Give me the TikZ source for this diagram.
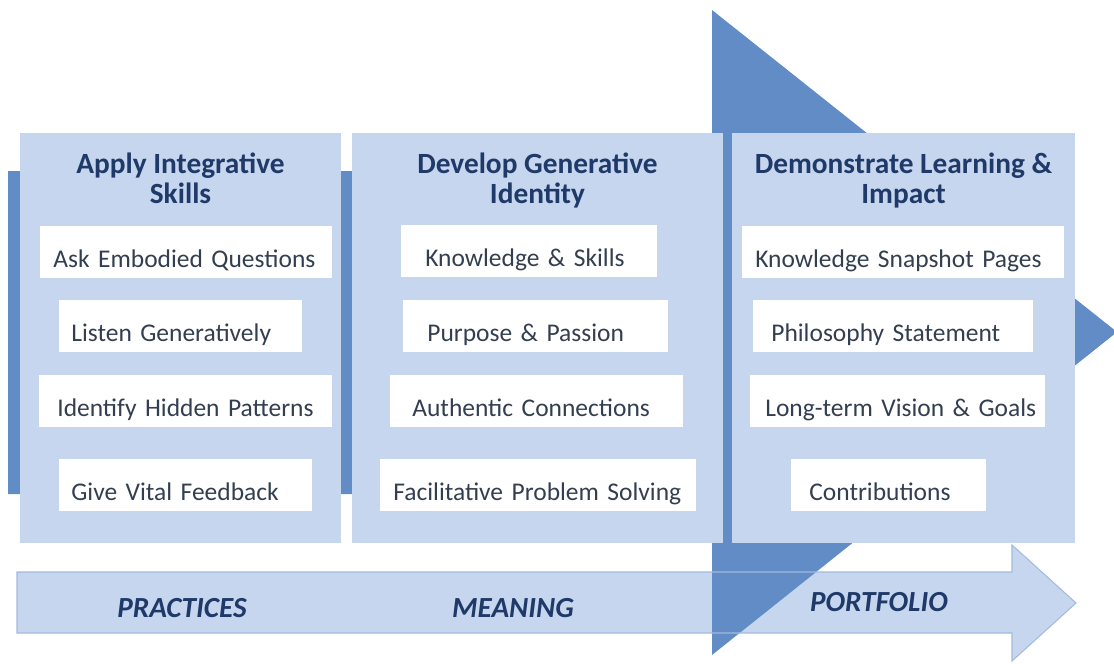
\documentclass[tikz,border=0pt]{standalone}
\usepackage{fontspec}
\setmainfont{Carlito}
\definecolor{arrowblue}{HTML}{628CC6}
\definecolor{panelblue}{HTML}{C6D6EE}
\definecolor{rimblue}{HTML}{A3BADD}
\definecolor{titlenavy}{HTML}{1F3A68}
\definecolor{itemgrey}{HTML}{333F50}

\begin{document}
\begin{tikzpicture}[x=0.02cm, y=-0.02cm]
\tikzset{panneau/.style={fill=panelblue, inner sep=0pt, minimum height=8.2cm},
  titre/.style={anchor=north, align=center, inner sep=0pt, text=titlenavy,
    font=\fontsize{16.7}{17}\selectfont\bfseries},
  casette/.style={fill=white, anchor=west, align=left, inner ysep=0pt,
    minimum height=1.04cm, text height=17.5pt, text depth=0pt, text=itemgrey,
    font=\fontsize{14.5}{16}\selectfont},
  etape/.style={anchor=base, inner sep=0pt, text=titlenavy,
    font=\fontsize{16.6}{17}\selectfont\bfseries\itshape}}
\useasboundingbox (0,0) rectangle (1114,663);
\fill[panelblue] (17,572) -- (1012,572) -- (1012,545) -- (1076,603) -- (1012,661) -- (1012,633) -- (17,633) -- cycle;
\fill[arrowblue] (8,171) -- (712,171) -- (712,10) -- (1117,332) -- (712,655) -- (712,494) -- (8,494) -- cycle;
\draw[rimblue, line width=0.6pt] (17,572) -- (1012,572) -- (1012,545) -- (1076,603) -- (1012,661) -- (1012,633) -- (17,633) -- cycle;
\node[panneau, minimum width=6.42cm] (P1) at (180.5,338) {};
\node[panneau, minimum width=7.42cm] (P2) at (537.5,338) {};
\node[panneau, minimum width=6.86cm] (P3) at (903.5,338) {};
\node[titre] (T1) at (180.5,153) {Apply Integrative\\Skills};
\node[titre] (T2) at (537.5,153) {Develop Generative\\Identity};
\node[titre] (T3) at (903.5,153) {Demonstrate Learning \&\\Impact};
\node[casette, inner xsep=0.26cm, text width=5.32cm] (B11) at (40,252) {\mbox{Ask Embodied Questions}};
\node[casette, inner xsep=0.24cm, text width=4.38cm] (B12) at (59,326) {\mbox{Listen Generatively}};
\node[casette, inner xsep=0.36cm, text width=5.14cm] (B13) at (39,401) {\mbox{Identify Hidden Patterns}};
\node[casette, inner xsep=0.24cm, text width=4.58cm] (B14) at (59,485) {\mbox{Give Vital Feedback}};
\node[casette, inner xsep=0.48cm, text width=4.16cm] (B21) at (401,251) {\mbox{Knowledge \& Skills}};
\node[casette, inner xsep=0.48cm, text width=4.34cm] (B22) at (403,326) {\mbox{Purpose \& Passion}};
\node[casette, inner xsep=0.44cm, text width=4.98cm] (B23) at (390,401) {\mbox{Authentic Connections}};
\node[casette, inner xsep=0.26cm, text width=5.80cm] (B24) at (380,485) {\mbox{Facilitative Problem Solving}};
\node[casette, inner xsep=0.26cm, text width=5.92cm] (B31) at (742,252) {\mbox{Knowledge Snapshot Pages}};
\node[casette, inner xsep=0.36cm, text width=4.88cm] (B32) at (753,326) {\mbox{Philosophy Statement}};
\node[casette, inner xsep=0.30cm, text width=5.30cm] (B33) at (750,401) {\mbox{Long-term Vision \& Goals}};
\node[casette, inner xsep=0.36cm, text width=3.18cm] (B34) at (791,485) {\mbox{Contributions}};
\node[etape] (L1) at (182,617) {PRACTICES};
\node[etape] (L2) at (513,617) {MEANING};
\node[etape] (L3) at (879,611) {PORTFOLIO};
\end{tikzpicture}
\end{document}
